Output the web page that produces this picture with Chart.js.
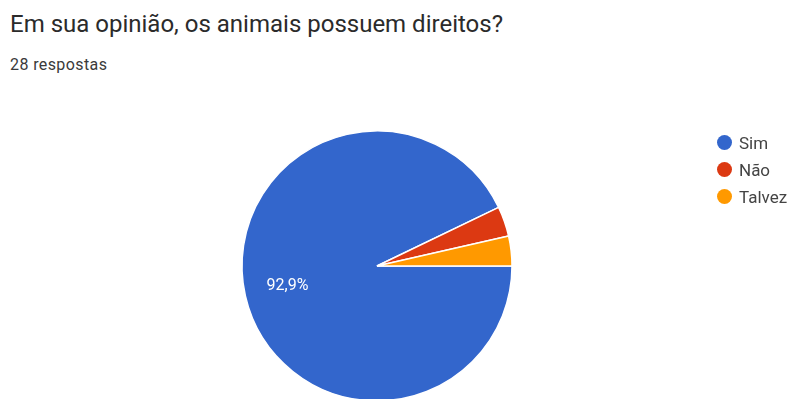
<!DOCTYPE html>
<html>
<head>
<meta charset="utf-8">
<script src="https://cdn.jsdelivr.net/npm/chart.js@4"></script>
<style>
    body { margin: 0; width: 796px; height: 399px; overflow: hidden; background: #fff; font-family: Roboto, Arial, sans-serif; position: relative; }
    #title { position: absolute; left: 10px; top: 10px; font-size: 24px; line-height: 28px; color: #2b2b2b; white-space: nowrap; }
    #subtitle { position: absolute; left: 10px; top: 55px; font-size: 16px; line-height: 19px; letter-spacing: 0.4px; color: #3a3a3a; }
    #chart-wrap { position: absolute; left: 0; top: 0; width: 796px; height: 405px; }
    #legend { position: absolute; left: 717px; top: 129px; font-size: 17px; color: #444; }
    #legend div { height: 27px; display: flex; align-items: center; white-space: nowrap; }
    #legend span.dot { width: 15px; height: 15px; border-radius: 50%; display: inline-block; margin-right: 7px; }
</style>
</head>
<body>
<div id="title">Em sua opinião, os animais possuem direitos?</div>
<div id="subtitle">28 respostas</div>
<div id="chart-wrap"><canvas id="pie-chart" width="796" height="405"></canvas></div>
<div id="legend"></div>
<script>
const labels = ["Sim", "Não", "Talvez"];
const counts = [26, 1, 1];
const colors = ["#3366cc", "#dc3912", "#ff9900"];

const total = counts.reduce((a, b) => a + b, 0);

// legend like google forms
const legend = document.getElementById("legend");
labels.forEach((label, i) => {
    const row = document.createElement("div");
    row.innerHTML = `<span class="dot" style="background:${colors[i]}"></span>${label}`;
    legend.appendChild(row);
});

const sliceLabels = {
    id: "sliceLabels",
    afterDatasetsDraw(chart) {
        const ctx = chart.ctx;
        const meta = chart.getDatasetMeta(0);
        ctx.save();
        ctx.font = "16px Roboto, Arial, sans-serif";
        ctx.fillStyle = "#ffffff";
        ctx.textAlign = "center";
        ctx.textBaseline = "middle";
        meta.data.forEach((arc, i) => {
            const pct = counts[i] / total * 100;
            if (pct < 10) return; // small slices have no label
            const { x, y, startAngle, endAngle, outerRadius } = arc.getProps(["x", "y", "startAngle", "endAngle", "outerRadius"], true);
            const mid = (startAngle + endAngle) / 2;
            const d = outerRadius * 0.68;
            ctx.fillText(pct.toFixed(1).replace(".", ",") + "%", x + Math.cos(mid) * d, y + Math.sin(mid) * d);
        });
        ctx.restore();
    }
};

new Chart(document.getElementById("pie-chart"), {
    type: "pie",
    data: {
        labels,
        datasets: [{
            data: counts,
            backgroundColor: colors,
            borderColor: "#ffffff",
            borderWidth: 1.5,
            radius: 135
        }]
    },
    options: {
        responsive: false,
        animation: false,
        rotation: 90,
        layout: {
            padding: { left: 242, right: 284, top: 131, bottom: 4 }
        },
        plugins: {
            legend: { display: false },
            tooltip: { enabled: false }
        }
    },
    plugins: [sliceLabels]
});
</script>
</body>
</html>
